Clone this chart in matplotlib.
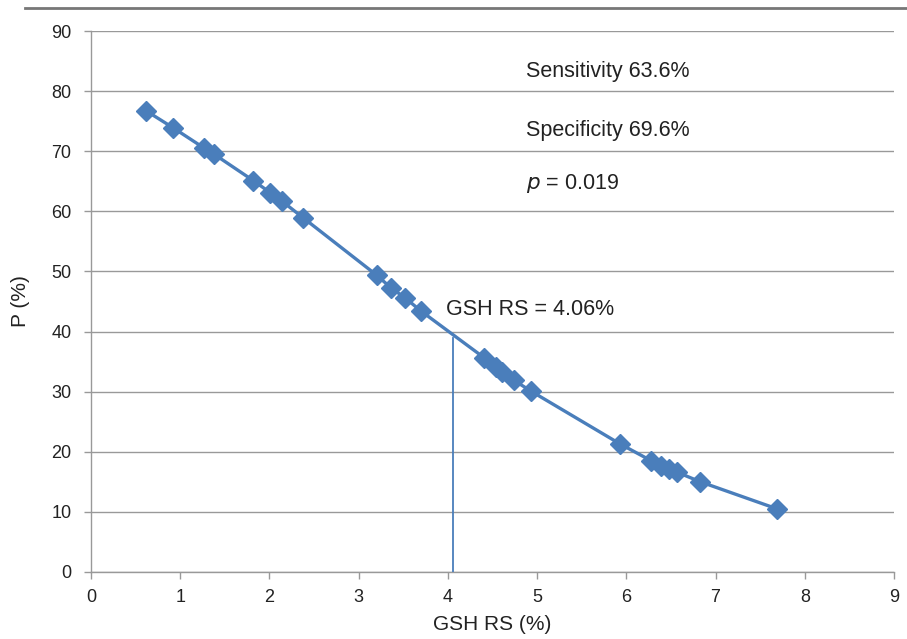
import matplotlib
matplotlib.use("Agg")
import matplotlib.pyplot as plt
from matplotlib.lines import Line2D

gsh_rs = [0.62, 0.92, 1.27, 1.38, 1.82, 2.01, 2.14, 2.38, 3.20, 3.36, 3.52, 3.70,
          4.41, 4.54, 4.61, 4.74, 4.93, 5.93, 6.28, 6.39, 6.48, 6.57, 6.83, 7.69]
p_values = [76.7, 73.9, 70.5, 69.5, 65.1, 63.1, 61.7, 58.9, 49.4, 47.3, 45.6, 43.4,
            35.6, 34.1, 33.3, 31.9, 30.1, 21.3, 18.5, 17.6, 17.1, 16.6, 15.0, 10.5]
cutoff_x = 4.06
cutoff_y = 38.9
x_ticks = list(range(0, 10))
y_ticks = list(range(0, 100, 10))

narrow = ['Liberation Sans Narrow', 'Liberation Sans', 'DejaVu Sans']
sans = ['Liberation Sans', 'DejaVu Sans']

fig = plt.figure(figsize=(9.07, 6.39), dpi=100)
ax = fig.add_axes([91/907, 67/639, (894-91)/907, (572-31)/639])

blue = '#4A7EBB'
ax.plot(gsh_rs, p_values, color=blue, lw=2.4, marker='D', ms=10.5, mec=blue, mfc=blue, zorder=3)
ax.plot([cutoff_x, cutoff_x], [0, cutoff_y], color=blue, lw=1.3, zorder=3)

ax.set_xlim(0, 9)
ax.set_ylim(0, 90)
ax.set_xticks(x_ticks)
ax.set_yticks(y_ticks)
ax.grid(axis='y', color='#999999', lw=1.0)
ax.set_axisbelow(True)
for s in ['top', 'right']:
    ax.spines[s].set_visible(False)
for s in ['left', 'bottom']:
    ax.spines[s].set_color('#999999')
    ax.spines[s].set_linewidth(1.0)
ax.tick_params(axis='both', colors='#999999', length=5, width=1.0, labelcolor='#222222', labelsize=13)
for lab in ax.get_xticklabels() + ax.get_yticklabels():
    lab.set_family(narrow)
ax.tick_params(axis='x', pad=7)
ax.tick_params(axis='y', pad=9)

ax.set_xlabel('GSH RS (%)', family=narrow, fontsize=15, color='#222222', labelpad=7)
ax.set_ylabel('P (%)', family=narrow, fontsize=15, color='#222222', labelpad=15)

fs = 15.5
ax.text(4.88, 83.2, 'Sensitivity 63.6%', family=sans, fontsize=fs, color='#222222', va='center')
ax.text(4.88, 73.5, 'Specificity 69.6%', family=sans, fontsize=fs, color='#222222', va='center')
ax.text(4.88, 64.7, r'$p$ = 0.019', family=sans, fontsize=fs, color='#222222', va='center')
ax.text(3.98, 43.6, 'GSH RS = 4.06%', family=sans, fontsize=fs, color='#222222', va='center')

fig.add_artist(Line2D([25/907, 1.0], [1 - 8/639, 1 - 8/639], color='#777777', lw=2))

fig.savefig('out.png', dpi=100)
